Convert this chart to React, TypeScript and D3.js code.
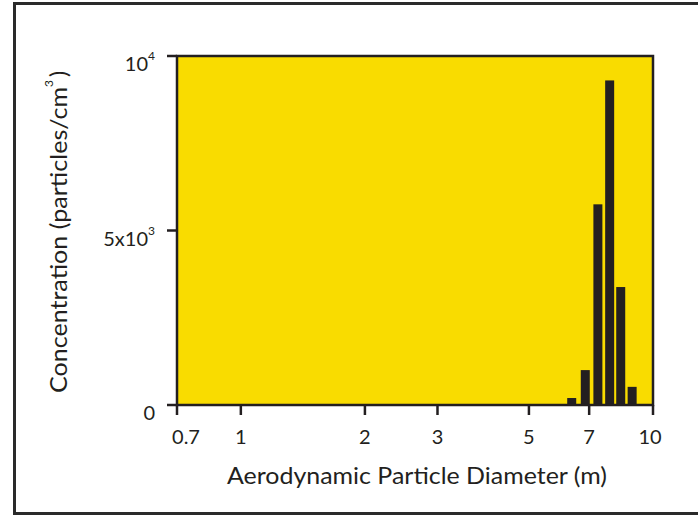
import React from "react";
import * as d3 from "d3";

const diameters = [6.35, 6.85, 7.35, 7.85, 8.35, 8.9];
const concentrations = [200, 1000, 5750, 9300, 3380, 520];
const xTicks = [0.7, 1, 2, 3, 5, 7, 10];
const xTickLabels = ["0.7", "1", "2", "3", "5", "7", "10"];
const yTicks = [0, 5000, 10000];

const W = 698;
const H = 515;
const M = { left: 177, right: 45, top: 56, bottom: 110 };
const FONT = "Lato, 'Liberation Sans', sans-serif";
const INK = "#231F20";
const YELLOW = "#F9DC00";

export default function App() {
  const x = d3.scaleLog().domain([0.7, 10]).range([M.left, W - M.right]);
  const y = d3.scaleLinear().domain([0, 10000]).range([H - M.bottom, M.top]);
  const barW = 9;
  const y0 = y(0);

  const yLabel = (v: number) => {
    if (v === 0) return <tspan>0</tspan>;
    if (v === 10000)
      return (
        <>
          <tspan>10</tspan>
          <tspan fontSize={12} dy={-11}>4</tspan>
        </>
      );
    return (
      <>
        <tspan>5x10</tspan>
        <tspan fontSize={12} dy={-11}>3</tspan>
      </>
    );
  };

  return (
    <svg
      width={W}
      height={H}
      style={{ position: "fixed", left: 0, top: 0, background: "#fff" }}
      fontFamily={FONT}
      fontWeight={400}
    >
      <rect x={14.5} y={3.5} width={W + 20} height={510} fill="none" stroke="#2a2a2a" strokeWidth={3} />
      <rect
        x={M.left}
        y={M.top}
        width={W - M.right - M.left}
        height={y0 - M.top}
        fill={YELLOW}
      />
      {diameters.map((d, i) => (
        <rect
          key={i}
          x={x(d) - barW / 2}
          y={y(concentrations[i])}
          width={barW}
          height={y0 - y(concentrations[i])}
          fill={INK}
        />
      ))}
      <rect
        x={M.left}
        y={M.top}
        width={W - M.right - M.left}
        height={y0 - M.top}
        fill="none"
        stroke={INK}
        strokeWidth={2.5}
      />
      {xTicks.map((t, i) => (
        <g key={t}>
          <line x1={x(t)} x2={x(t)} y1={y0} y2={y0 + 10} stroke={INK} strokeWidth={2.5} />
          <text
            x={x(t) + (i === 0 ? 9 : i === xTicks.length - 1 ? -3 : 0)}
            y={y0 + 39}
            textAnchor="middle"
            fontSize={20}
            fill={INK}
          >
            {xTickLabels[i]}
          </text>
        </g>
      ))}
      {yTicks.map((t) => (
        <g key={t}>
          <line x1={M.left - 10} x2={M.left} y1={y(t)} y2={y(t)} stroke={INK} strokeWidth={2.5} />
          <text x={155} y={y(t) + 15} textAnchor="end" fontSize={20} fill={INK}>
            {yLabel(t)}
          </text>
        </g>
      ))}
      <text
        x={227}
        y={484}
        fontSize={23}
        fill={INK}
        textLength={380}
        lengthAdjust="spacingAndGlyphs"
      >
        Aerodynamic Particle Diameter (m)
      </text>
      <text
        transform={`translate(67, 393) rotate(-90)`}
        fontSize={23}
        fill={INK}
      >
        <tspan textLength={306} lengthAdjust="spacingAndGlyphs">Concentration (particles/cm</tspan>
        <tspan fontSize={12} dy={-14}>3</tspan>
        <tspan dy={14} dx={3}>)</tspan>
      </text>
    </svg>
  );
}
